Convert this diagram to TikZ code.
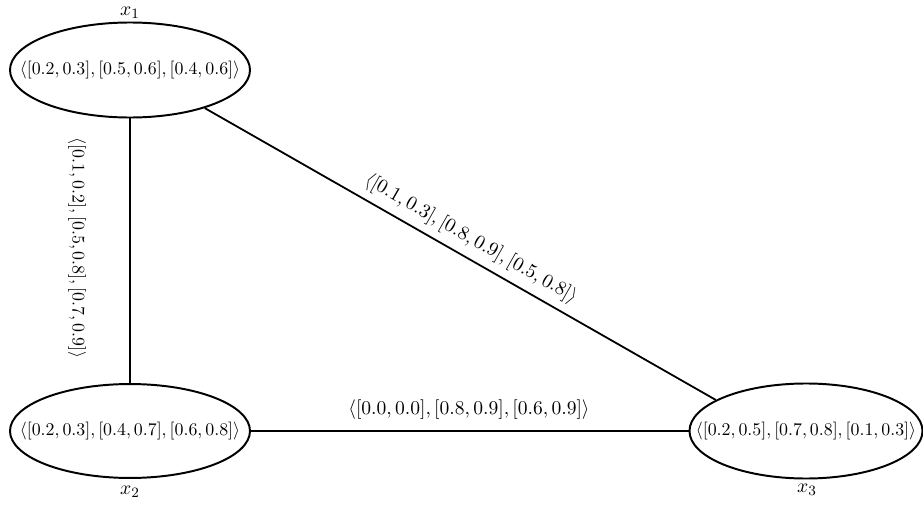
\documentclass[tikz,border=0pt]{standalone}
\usetikzlibrary{shapes.geometric}
\begin{document}
\begin{tikzpicture}[x=0.56pt,y=-0.56pt,
  ell/.style={draw,ellipse,line width=1.1pt,inner sep=0pt},
  val/.style={inner sep=0pt,font=\fontsize{10}{12}\selectfont},
  elab/.style={inner sep=0pt,font=\fontsize{10.5}{12.5}\selectfont},
  vlab/.style={inner sep=0pt,font=\fontsize{9.6}{11.5}\selectfont},
  xlab/.style={inner sep=0pt,font=\fontsize{11}{13}\selectfont},
  conn/.style={line width=1pt}]
\useasboundingbox (0,0) rectangle (923,506);
\node[ell,minimum width=134.4pt,minimum height=53.2pt] (x1) at (130,70) {};
\node[ell,minimum width=134.4pt,minimum height=52.6pt] (x2) at (130,431) {};
\node[ell,minimum width=130.5pt,minimum height=53.2pt] (x3) at (806,431) {};
\node[val] (v1) at (x1) {$\langle[0.2,0.3],[0.5,0.6],[0.4,0.6]\rangle$};
\node[val] (v2) at (x2) {$\langle[0.2,0.3],[0.4,0.7],[0.6,0.8]\rangle$};
\node[val] (v3) at (x3) {$\langle[0.2,0.5],[0.7,0.8],[0.1,0.3]\rangle$};
\node[xlab] (l1) at (130,13) {$x_1$};
\node[xlab] (l2) at (130,492) {$x_2$};
\node[xlab] (l3) at (807,490) {$x_3$};
\draw[conn] (x1.south) -- (x2.north);
\draw[conn] (x2.east) -- (x3.west);
\draw[conn] (x1.-27.5) -- (x3.161.7);
\node[vlab,rotate=-90] (e12) at (77,248) {$\langle[0.1,0.2],[0.5,0.8],[0.7,0.9]\rangle$};
\node[elab] (e23) at (469,410) {$\langle[0.0,0.0],[0.8,0.9],[0.6,0.9]\rangle$};
\node[elab,rotate=-29.7] (e13) at (471,239) {$\langle[0.1,0.3],[0.8,0.9],[0.5,0.8]\rangle$};
\end{tikzpicture}
\end{document}
